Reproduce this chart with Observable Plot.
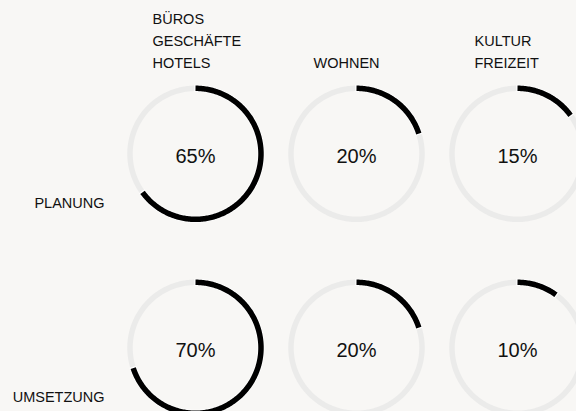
<!DOCTYPE html>
<html>
<head>
<meta charset="utf-8">
<script src="https://cdn.jsdelivr.net/npm/d3@7"></script>
<script src="https://cdn.jsdelivr.net/npm/@observablehq/plot@0.6"></script>
<style>
  html, body { margin: 0; padding: 0; background: #f8f7f5; }
  #chart svg { display: block; }
</style>
</head>
<body>
<div id="chart"></div>
<script>
// ---- data ----
const categories = ["BÜROS\nGESCHÄFTE\nHOTELS", "WOHNEN", "KULTUR\nFREIZEIT"];
const phases = ["PLANUNG", "UMSETZUNG"];
const planung = [65, 20, 15];
const umsetzung = [70, 20, 10];

// ---- build table ----
const seriesByPhase = [planung, umsetzung];
const cells = phases.flatMap((p, i) =>
  categories.map((c, j) => ({phase: p, category: c, value: seriesByPhase[i][j], key: p + "|" + c}))
);

// sample an arc (clockwise from 12 o'clock) on the unit circle for the line mark
function arc(cell, a0, a1) {
  const n = Math.max(2, Math.ceil(Math.abs(a1 - a0) / (Math.PI / 180)) + 1);
  return d3.range(n).map(k => {
    const a = a0 + (a1 - a0) * k / (n - 1);
    return {...cell, x: Math.sin(a), y: Math.cos(a)};
  });
}
const TAU = 2 * Math.PI;
const unit = 65.5;            // px per unit radius
const colStep = 161, rowStep = 194;
const eps = 1.2 / unit;

const ringPts = cells.flatMap(c => arc(c, 0, TAU));
const edgePts = cells.flatMap(c => arc(c, -eps, c.value / 100 * TAU + eps));
const valuePts = cells.flatMap(c => arc(c, 0, c.value / 100 * TAU));

const font = "'Liberation Sans', Arial, Helvetica, sans-serif";

const chart = Plot.plot({
  width: 576,
  height: 411,
  marginTop: 0, marginRight: 0, marginBottom: 0, marginLeft: 0,
  style: {background: "#f8f7f5", fontFamily: font, color: "#111"},
  fx: {domain: categories, range: [195 - colStep / 2, 195 + 2.5 * colStep], padding: 0, round: false, axis: null},
  fy: {domain: phases, range: [153.3 - rowStep / 2, 153.3 + 1.5 * rowStep], padding: 0, round: false, axis: null},
  x: {domain: [-colStep / 2 / unit, colStep / 2 / unit], axis: null},
  y: {domain: [-rowStep / 2 / unit, rowStep / 2 / unit], axis: null},
  marks: [
    Plot.line(ringPts, {fx: "category", fy: "phase", x: "x", y: "y", z: "key",
      stroke: "#ebebea", strokeWidth: 5.5, strokeLinecap: "butt", curve: "linear"}),
    Plot.line(edgePts, {fx: "category", fy: "phase", x: "x", y: "y", z: "key",
      stroke: "#ffffff", strokeWidth: 7, strokeLinecap: "butt", curve: "linear"}),
    Plot.line(valuePts, {fx: "category", fy: "phase", x: "x", y: "y", z: "key",
      stroke: "#000000", strokeWidth: 5.5, strokeLinecap: "butt", curve: "linear"}),
    Plot.text(cells, {fx: "category", fy: "phase", x: () => 0, y: () => -0.04,
      text: d => `${d.value}%`, fontSize: 20, fill: "#111", lineAnchor: "middle"}),
    Plot.text(categories, {fx: d => d, fy: () => phases[0], x: () => -43 / unit, y: () => 86 / unit,
      text: d => d, textAnchor: "start", lineAnchor: "bottom", lineHeight: 1.52, fontSize: 14.5, fill: "#111"}),
    Plot.text(phases, {fx: () => categories[0], fy: d => d, x: () => -91 / unit, y: () => -50 / unit,
      text: d => d, textAnchor: "end", lineAnchor: "middle", fontSize: 14.5, fill: "#111"})
  ]
});
document.getElementById("chart").appendChild(chart);
</script>
</body>
</html>
